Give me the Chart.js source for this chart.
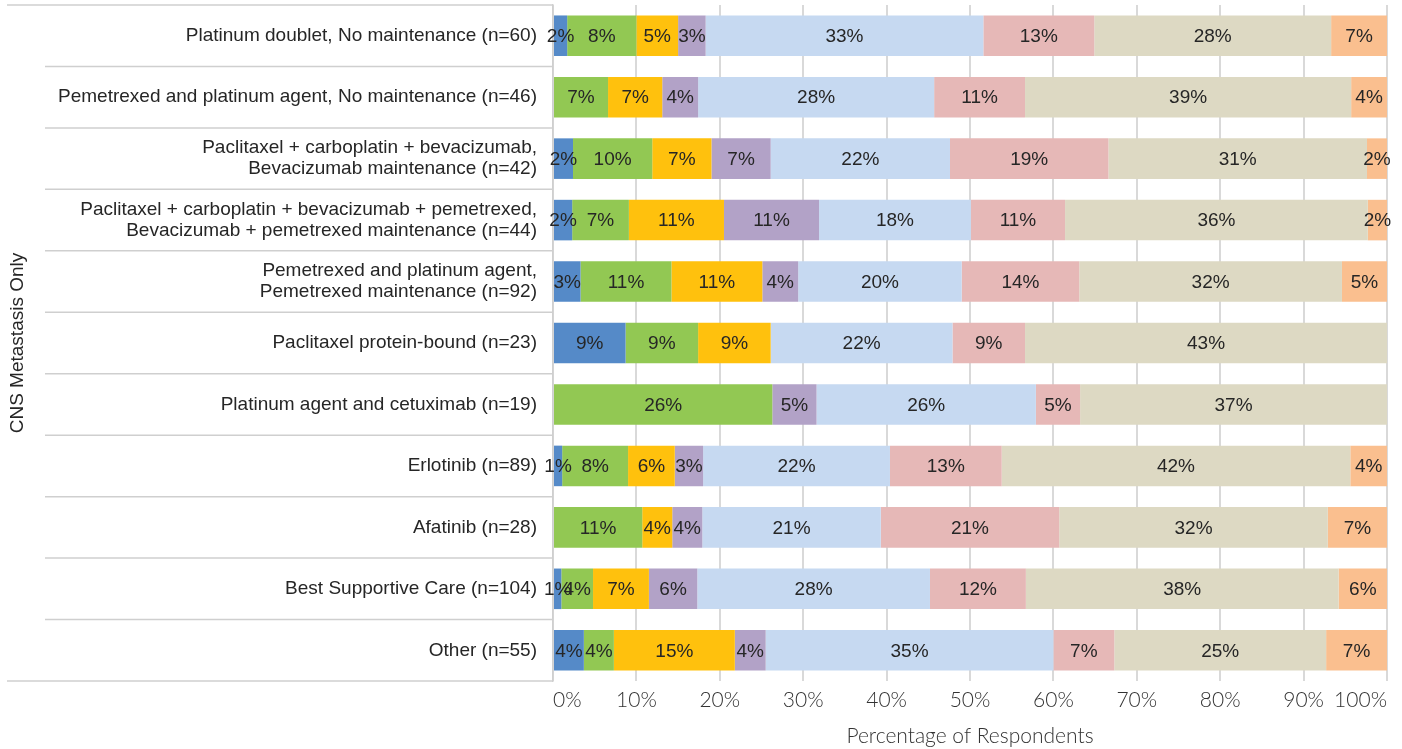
<!DOCTYPE html>
<html>
<head>
<meta charset="utf-8">
<title>CNS Metastasis Only</title>
<script src="https://cdn.jsdelivr.net/npm/chart.js@4.4.1/dist/chart.umd.min.js"></script>
<style>
    html, body { margin: 0; padding: 0; background: #ffffff; }
    #wrap { position: relative; width: 1402px; height: 749px; }
</style>
</head>
<body>
<div id="wrap"><canvas id="bar-chart"></canvas></div>
<script>
// regimens (y-axis categories), multi-line labels as arrays
const regimens = [
    'Platinum doublet, No maintenance (n=60)',
    'Pemetrexed and platinum agent, No maintenance (n=46)',
    ['Paclitaxel + carboplatin + bevacizumab,', 'Bevacizumab maintenance (n=42)'],
    ['Paclitaxel + carboplatin + bevacizumab + pemetrexed,', 'Bevacizumab + pemetrexed maintenance (n=44)'],
    ['Pemetrexed and platinum agent,', 'Pemetrexed maintenance (n=92)'],
    'Paclitaxel protein-bound (n=23)',
    'Platinum agent and cetuximab (n=19)',
    'Erlotinib (n=89)',
    'Afatinib (n=28)',
    'Best Supportive Care (n=104)',
    'Other (n=55)'
];

// percentage of respondents per segment, one array per series (same order as regimens)
const seriesA = [1.7, 0.0, 2.4, 2.3, 3.3, 8.7, 0.0, 1.1, 0.0, 1.0, 3.7];       // blue
const seriesB = [8.3, 6.6, 9.5, 6.8, 10.9, 8.7, 26.3, 7.9, 10.7, 3.8, 3.6];    // green
const seriesC = [5.0, 6.5, 7.1, 11.4, 10.9, 8.7, 0.0, 5.6, 3.6, 6.7, 14.5];    // yellow
const seriesD = [3.3, 4.3, 7.1, 11.4, 4.3, 0.0, 5.3, 3.4, 3.6, 5.8, 3.7];      // purple
const seriesE = [33.3, 28.3, 21.5, 18.2, 19.6, 21.8, 26.3, 22.4, 21.4, 27.9, 34.5]; // light blue
const seriesF = [13.3, 10.9, 19.0, 11.3, 14.1, 8.7, 5.3, 13.4, 21.4, 11.5, 7.3];   // pink
const seriesG = [28.4, 39.1, 31.0, 36.3, 31.5, 43.4, 36.8, 41.8, 32.2, 37.5, 25.4]; // tan
const seriesH = [6.7, 4.3, 2.4, 2.3, 5.4, 0.0, 0.0, 4.4, 7.1, 5.8, 7.3];       // orange

const seriesNames = ['Series 1', 'Series 2', 'Series 3', 'Series 4', 'Series 5', 'Series 6', 'Series 7', 'Series 8'];
const seriesColors = ['#558ac8', '#92c853', '#ffc10d', '#b2a2c7', '#c6d9f1', '#e6b8b7', '#ddd9c3', '#fabf8f'];
const allSeries = [seriesA, seriesB, seriesC, seriesD, seriesE, seriesF, seriesG, seriesH];

const xTicks = [0, 10, 20, 30, 40, 50, 60, 70, 80, 90, 100];

// percent labels in the middle of every segment
const segmentLabels = {
    id: 'segmentLabels',
    afterDatasetsDraw(chart) {
        const ctx = chart.ctx;
        ctx.save();
        ctx.font = '19px "Liberation Sans", Arial, sans-serif';
        ctx.fillStyle = '#262626';
        ctx.textAlign = 'center';
        ctx.textBaseline = 'middle';
        chart.data.datasets.forEach((ds, i) => {
            const meta = chart.getDatasetMeta(i);
            meta.data.forEach((bar, j) => {
                const v = ds.data[j];
                if (!v) return;
                const cx = (bar.x + bar.base) / 2;
                ctx.fillText(Math.round(v) + '%', cx, bar.y + 1);
            });
        });
        ctx.restore();
    }
};

// row separators in the label column, like the category table on the left
const rowLines = {
    id: 'rowLines',
    afterDraw(chart) {
        const ctx = chart.ctx;
        const y = chart.scales.y;
        const area = chart.chartArea;
        const n = regimens.length;
        const band = (area.bottom - area.top) / n;
        ctx.save();
        ctx.strokeStyle = '#cfcfcf';
        ctx.lineWidth = 1.5;
        for (let i = 0; i <= n; i++) {
            const py = (i < n ? y.getPixelForValue(i) - band / 2 : y.getPixelForValue(n - 1) + band / 2);
            const x0 = (i === 0 || i === n) ? 7 : 45;
            ctx.beginPath();
            ctx.moveTo(x0, py);
            ctx.lineTo(area.left, py);
            ctx.stroke();
        }
        ctx.restore();
    }
};

function createChart() {
    const canvas = document.getElementById('bar-chart');

    const datasets = allSeries.map((data, i) => ({
        label: seriesNames[i],
        data: data,
        backgroundColor: seriesColors[i],
        borderWidth: 0,
        categoryPercentage: 1.0,
        barPercentage: 0.66
    }));

    new Chart(canvas, {
        type: 'bar',
        data: {
            labels: regimens,
            datasets: datasets
        },
        options: {
            indexAxis: 'y',
            responsive: true,
            maintainAspectRatio: false,
            animation: false,
            layout: {
                padding: { top: 5, right: 15, left: 0, bottom: 0 }
            },
            scales: {
                x: {
                    stacked: true,
                    min: 0,
                    max: 100,
                    afterBuildTicks: (scale) => {
                        scale.ticks = xTicks.map(v => ({ value: v }));
                    },
                    afterFit: (scale) => {
                        scale.height = 68;
                        scale.paddingLeft = 0;
                        scale.paddingRight = 0;
                    },
                    ticks: {
                        align: 'inner',
                        padding: 7,
                        color: '#333333',
                        font: { family: 'Lato, "Open Sans", sans-serif', size: 21, weight: 300 },
                        callback: (v) => v + '%'
                    },
                    grid: {
                        color: '#d9d9d9',
                        lineWidth: 2,
                        drawTicks: false
                    },
                    border: { display: false },
                    title: {
                        display: true,
                        text: 'Percentage of Respondents',
                        color: '#333333',
                        font: { family: 'Lato, "Open Sans", sans-serif', size: 21, weight: 300 },
                        padding: { top: 2, bottom: 0 }
                    }
                },
                y: {
                    stacked: true,
                    afterFit: (scale) => {
                        scale.width = 553;
                        scale.paddingTop = 0;
                        scale.paddingBottom = 0;
                    },
                    ticks: {
                        padding: 16,
                        color: '#262626',
                        font: { family: '"Liberation Sans", Arial, sans-serif', size: 19, lineHeight: 1.1 }
                    },
                    grid: { display: false, drawTicks: false },
                    border: { display: true, color: '#cfcfcf', width: 1.5 },
                    title: {
                        display: true,
                        text: 'CNS Metastasis Only',
                        color: '#262626',
                        font: { family: '"Liberation Sans", Arial, sans-serif', size: 19 },
                        padding: { top: 6, bottom: 0 }
                    }
                }
            },
            plugins: {
                legend: { display: false },
                tooltip: { enabled: false }
            }
        },
        plugins: [segmentLabels, rowLines]
    });
}

createChart();
</script>
</body>
</html>
